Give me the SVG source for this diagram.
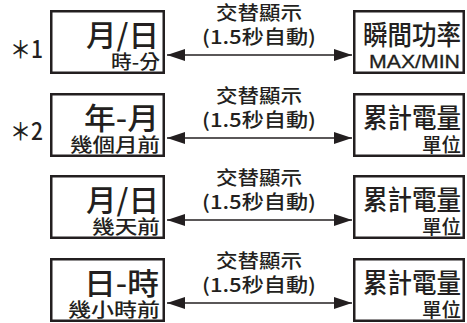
<svg xmlns="http://www.w3.org/2000/svg" width="467" height="323" viewBox="0 0 467 323">
<style>
.box{fill:#fff;stroke:#231f20;stroke-width:2.5}
.t{font-family:"Noto Sans CJK TC","Liberation Sans",sans-serif;fill:#231f20;font-weight:500}
.main{font-size:30px;text-anchor:end}
.sub{font-size:19px;text-anchor:end}
.rmain{font-size:27px}
.lbl{font-size:19px;text-anchor:middle}
.star{font-size:24px}
.lat{font-family:"Liberation Sans",Arial,sans-serif;fill:#231f20;font-size:18px;stroke:#231f20;stroke-width:0.3}
.conn{stroke:#231f20;stroke-width:1.4;fill:none}
</style>
<defs>
<marker id="ah" markerUnits="userSpaceOnUse" markerWidth="20" markerHeight="12" refX="18" refY="6" orient="auto-start-reverse">
<path d="M0,0 L18,6 L0,12 Z" fill="#231f20"/>
</marker>
</defs>

<g id="connectors">
<line class="conn" x1="167" y1="55" x2="352" y2="55" marker-start="url(#ah)" marker-end="url(#ah)"/>
<line class="conn" x1="167" y1="138" x2="352" y2="138" marker-start="url(#ah)" marker-end="url(#ah)"/>
<line class="conn" x1="167" y1="220" x2="352" y2="220" marker-start="url(#ah)" marker-end="url(#ah)"/>
<line class="conn" x1="167" y1="303" x2="352" y2="303" marker-start="url(#ah)" marker-end="url(#ah)"/>
<text class="t lbl" x="259" y="20" textLength="86" lengthAdjust="spacingAndGlyphs">交替顯示</text>
<text class="t lbl" x="259" y="44" textLength="114" lengthAdjust="spacingAndGlyphs">(1.5秒自動)</text>
<text class="t lbl" x="259" y="103" textLength="86" lengthAdjust="spacingAndGlyphs">交替顯示</text>
<text class="t lbl" x="259" y="127" textLength="114" lengthAdjust="spacingAndGlyphs">(1.5秒自動)</text>
<text class="t lbl" x="259" y="185" textLength="86" lengthAdjust="spacingAndGlyphs">交替顯示</text>
<text class="t lbl" x="259" y="209" textLength="114" lengthAdjust="spacingAndGlyphs">(1.5秒自動)</text>
<text class="t lbl" x="259" y="268" textLength="86" lengthAdjust="spacingAndGlyphs">交替顯示</text>
<text class="t lbl" x="259" y="292" textLength="114" lengthAdjust="spacingAndGlyphs">(1.5秒自動)</text>
</g>

<g id="note1"><text class="t star" x="10" y="58" textLength="33" lengthAdjust="spacingAndGlyphs">＊1</text></g>
<g id="note2"><text class="t star" x="10" y="140" textLength="33" lengthAdjust="spacingAndGlyphs">＊2</text></g>

<g id="left1">
<rect class="box" x="51.25" y="11.25" width="112.5" height="61.5"/>
<text class="t main" x="159" y="46" textLength="73" lengthAdjust="spacingAndGlyphs">月/日</text>
<text class="t sub" x="160" y="69" textLength="49" lengthAdjust="spacingAndGlyphs">時-分</text>
</g>
<g id="right1">
<rect class="box" x="354.25" y="11.25" width="109.5" height="61.5"/>
<text class="t rmain" x="363" y="45" textLength="98" lengthAdjust="spacingAndGlyphs">瞬間功率</text>
<text class="lat" x="369" y="68" textLength="91" lengthAdjust="spacingAndGlyphs">MAX/MIN</text>
</g>

<g id="left2">
<rect class="box" x="51.25" y="94.25" width="112.5" height="61.5"/>
<text class="t main" x="159" y="129" textLength="75" lengthAdjust="spacingAndGlyphs">年-月</text>
<text class="t sub" x="160" y="152" textLength="90" lengthAdjust="spacingAndGlyphs">幾個月前</text>
</g>
<g id="right2">
<rect class="box" x="354.25" y="94.25" width="109.5" height="61.5"/>
<text class="t rmain" x="363" y="128" textLength="98" lengthAdjust="spacingAndGlyphs">累計電量</text>
<text class="t sub" x="461" y="152" textLength="39" lengthAdjust="spacingAndGlyphs">單位</text>
</g>

<g id="left3">
<rect class="box" x="51.25" y="176.25" width="112.5" height="61.5"/>
<text class="t main" x="159" y="211" textLength="73" lengthAdjust="spacingAndGlyphs">月/日</text>
<text class="t sub" x="160" y="234" textLength="68" lengthAdjust="spacingAndGlyphs">幾天前</text>
</g>
<g id="right3">
<rect class="box" x="354.25" y="176.25" width="109.5" height="61.5"/>
<text class="t rmain" x="363" y="210" textLength="98" lengthAdjust="spacingAndGlyphs">累計電量</text>
<text class="t sub" x="461" y="234" textLength="39" lengthAdjust="spacingAndGlyphs">單位</text>
</g>

<g id="left4">
<rect class="box" x="51.25" y="259.25" width="112.5" height="61.5"/>
<text class="t main" x="159" y="294" textLength="75" lengthAdjust="spacingAndGlyphs">日-時</text>
<text class="t sub" x="160" y="317" textLength="92" lengthAdjust="spacingAndGlyphs">幾小時前</text>
</g>
<g id="right4">
<rect class="box" x="354.25" y="259.25" width="109.5" height="61.5"/>
<text class="t rmain" x="363" y="293" textLength="98" lengthAdjust="spacingAndGlyphs">累計電量</text>
<text class="t sub" x="461" y="317" textLength="39" lengthAdjust="spacingAndGlyphs">單位</text>
</g>
</svg>
